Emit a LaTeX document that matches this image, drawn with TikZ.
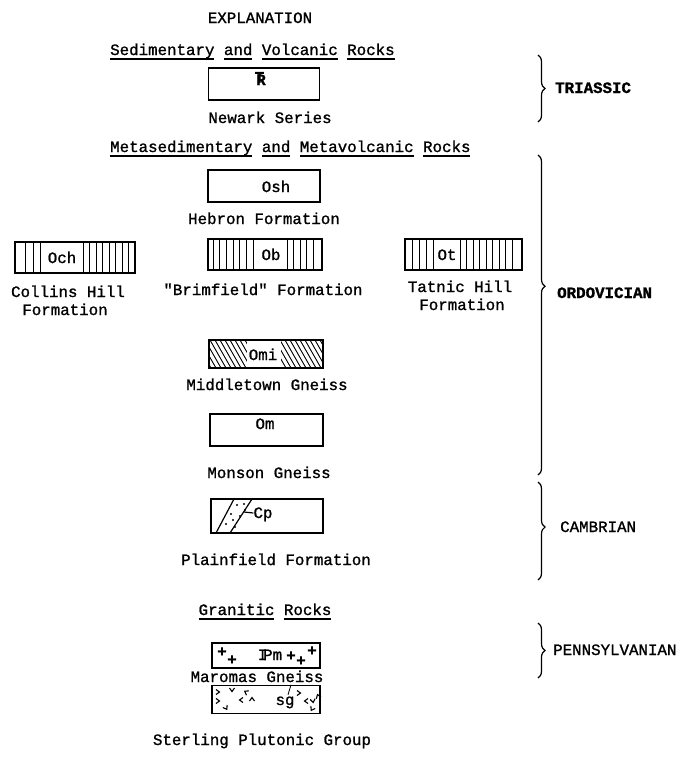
\documentclass[tikz,border=0pt]{standalone}
\usepackage{fontspec}
\setmonofont{Liberation Mono}[FakeBold=1.2]
\usetikzlibrary{positioning,decorations.pathreplacing}

\newcommand{\tw}{\ttfamily\fontsize{15.8}{18}\selectfont}
\newcommand{\ulword}[1]{\setbox0\hbox{#1}\rlap{\rule[-4.5pt]{\wd0}{1.2pt}}#1}

\begin{document}
\begin{tikzpicture}[
  x=1pt, y=-1pt,
  lbl/.style={font=\tw, inner sep=0pt, text height=10pt, text depth=0pt},
  era/.style={lbl, anchor=west},
  unit/.style={draw, line width=1.5pt, minimum width=112pt, minimum height=32pt, inner sep=0pt},
  hatch/.style={line width=0.9pt},
  bracket/.style={decorate, decoration={brace, amplitude=7pt}, line width=1.2pt}
]
  \useasboundingbox (0,0) rectangle (678,761);

  % headings
  \node[lbl] (expl) at (260,18) {EXPLANATION};
  \node[lbl, anchor=west] (sedvol) at (110,50) {\ulword{Sedimentary} \ulword{and} \ulword{Volcanic} \ulword{Rocks}};
  \node[lbl, anchor=west] (metased) at (110,147) {\ulword{Metasedimentary} \ulword{and} \ulword{Metavolcanic} \ulword{Rocks}};
  \node[lbl] (granitic) at (265,610) {\ulword{Granitic} \ulword{Rocks}};

  % Newark
  \node[unit, minimum width=111pt] (newark) at (264,84) {};
  \node[lbl, font=\tw\bfseries] (trsym) at (261,80) {\rlap{\kern-1.5pt\raisebox{2.5pt}{T}}R};
  \node[lbl] (newarkname) at (270,118) {Newark Series};

  % Hebron
  \node[unit] (hebron) at (264,186) {};
  \node[lbl] (osh) at (276,187) {Osh};
  \node[lbl] (hebronname) at (264,219) {Hebron Formation};

  % Collins Hill
  \foreach \x in {25,33,40,83,89.5,...,129}
    \draw[hatch] (\x,242) -- (\x,273);
  \node[unit, minimum width=120pt, minimum height=31pt] (och) at (75,257.5) {};
  \node[lbl] (ochsym) at (62,258) {Och};
  \node[lbl] (collins1) at (68,292) {Collins Hill};
  \node[lbl] (collins2) at (65,310) {Formation};

  % Brimfield
  \foreach \x in {213,219.7,...,254,287,293.5,...,318}
    \draw[hatch] (\x,239) -- (\x,270);
  \node[unit, minimum width=114pt, minimum height=31pt] (brim) at (265,254.5) {};
  \node[lbl] (obsym) at (271,255) {Ob};
  \node[lbl] (brimname) at (263,290) {"Brimfield" Formation};

  % Tatnic Hill
  \foreach \x in {412,419,426,433,460,466.5,...,516}
    \draw[hatch] (\x,239) -- (\x,270);
  \node[unit, minimum width=117pt, minimum height=31pt] (tatnic) at (463.5,254.5) {};
  \node[lbl] (otsym) at (447,255) {Ot};
  \node[lbl] (tatnic1) at (460,287) {Tatnic Hill};
  \node[lbl] (tatnic2) at (462,305) {Formation};

  % Middletown
  \begin{scope}
    \clip (209,340) rectangle (323,368);
    \foreach \x in {190,195,...,325}
      \draw[hatch] (\x,340) -- ++(16,28);
    \fill[white] (247,341) rectangle (281,367);
  \end{scope}
  \node[unit, minimum width=114pt, minimum height=28pt] (omi) at (266,354) {};
  \node[lbl] (omisym) at (263,355) {Omi};
  \node[lbl] (middletown) at (267,385) {Middletown Gneiss};

  % Monson
  \node[unit, minimum width=113pt] (monson) at (266.5,430) {};
  \node[lbl] (omsym) at (265,424) {Om};
  \node[lbl] (monsonname) at (269,473) {Monson Gneiss};

  % Plainfield
  \coordinate (band1a) at (216,533);
  \coordinate (band1b) at (234,499);
  \coordinate (band2a) at (230,533);
  \coordinate (band2b) at (252,499);
  \draw[hatch, line width=1.2pt] (band1a) -- (band1b);
  \draw[hatch, line width=1.2pt] (band2a) -- (band2b);
  \foreach \dx/\dy in {237/505,244/504,231/514,240/516,226/524,235/527,233/520,245/510}
    \fill (\dx,\dy) circle (1.1);
  \node[unit, minimum width=112pt, minimum height=34pt] (plain) at (267,516) {};
  \node[lbl] (cpsym) at (263,513) {Cp};
  \draw[hatch, line width=1.2pt] (244,512) -- (cpsym.west);
  \node[lbl] (plainname) at (276,560) {Plainfield Formation};

  % Maromas
  \node[unit, minimum width=108pt, minimum height=25pt] (pm) at (266,655.5) {};
  \foreach \px/\py in {222/652,232/660,291/656,301/661,312/651}
    \node[font=\tw\bfseries, inner sep=0pt] at (\px,\py) {+};
  \node[lbl] (pmsym) at (270,655) {I\kern-4.25pt Pm};
  \node[lbl] (maromas) at (257,677) {Maromas Gneiss};

  % Sterling
  \node[unit, minimum width=108pt, minimum height=28pt] (sg) at (266,699.5) {};
  \foreach \mx/\my/\ang in {218/692/90,218/701/90,232/690/0,241/700/-90,246/692/-120,
      252/699/180,299/693/90,306/701/-90,313/701/10,318/696/200,226/708/30,312/709/-30}
    \draw[hatch, line width=1.1pt, rotate around={\ang:(\mx,\my)}] (\mx-2.5,\my-2) -- (\mx,\my+1.5) -- (\mx+2.5,\my-2);
  \node[lbl] (sgsym) at (285,700) {sg};
  \draw[line width=0.8pt] (sgsym.north) ++(3,0) -- (sg.north -| 291,0);
  \node[lbl] (sterling) at (262,740) {Sterling Plutonic Group};

  % periods
  \coordinate (tri1) at (538,55);
  \coordinate (tri2) at (538,122);
  \draw[bracket] (tri1) -- (tri2);
  \node[era, font=\tw\bfseries] (triassic) at (555,88) {TRIASSIC};

  \coordinate (ord1) at (538,155);
  \coordinate (ord2) at (538,475);
  \draw[bracket, decoration={aspect=0.41}] (ord1) -- (ord2);
  \node[era, font=\tw\bfseries] (ordovician) at (557,293) {ORDOVICIAN};

  \coordinate (cam1) at (538,482);
  \coordinate (cam2) at (538,580);
  \draw[bracket, decoration={aspect=0.46}] (cam1) -- (cam2);
  \node[era] (cambrian) at (560,527) {CAMBRIAN};

  \coordinate (pen1) at (538,623);
  \coordinate (pen2) at (538,678);
  \draw[bracket] (pen1) -- (pen2);
  \node[era] (pennsylvanian) at (553,650) {PENNSYLVANIAN};
\end{tikzpicture}
\end{document}
